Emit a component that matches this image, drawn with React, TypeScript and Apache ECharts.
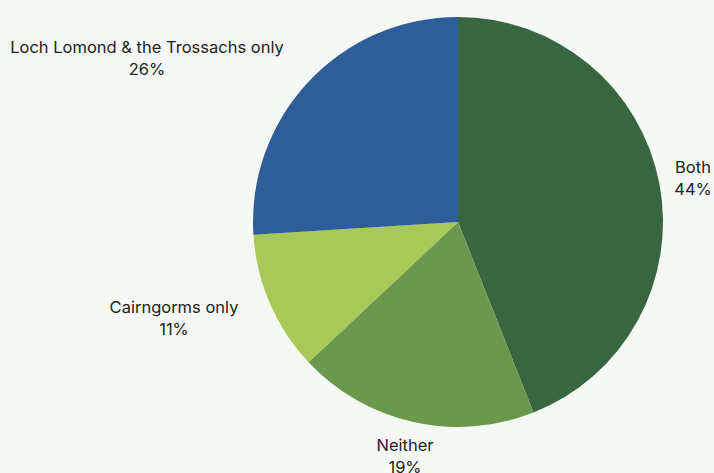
import React, { useEffect, useRef } from "react";
import * as echarts from "echarts";

const categories = ["Both", "Neither", "Cairngorms only", "Loch Lomond & the Trossachs only"];
const shares = [44, 19, 11, 26];
const colors = ["#386641", "#6a994e", "#a7c957", "#2e5e98"];
const labelCenters: [number, number][] = [
  [693, 178],
  [405, 456],
  [174, 318],
  [147, 58],
];

export default function App() {
  const ref = useRef<HTMLDivElement>(null);
  useEffect(() => {
    if (!ref.current) return;
    const chart = echarts.init(ref.current, undefined, { renderer: "svg" });
    chart.setOption({
      animation: false,
      backgroundColor: "#f6f8f6",
      series: [
        {
          type: "pie",
          center: [458, 222],
          radius: 205,
          startAngle: 90,
          clockwise: true,
          data: categories.map((name, i) => ({
            name,
            value: shares[i],
            itemStyle: { color: colors[i] },
          })),
          itemStyle: { borderWidth: 0 },
          label: {
            show: true,
            position: "outside",
            formatter: (p: any) => `${p.name}\n${p.value}%`,
            fontFamily: "Inter",
            fontSize: 16.5,
            lineHeight: 22,
            color: "#222222",
            align: "center",
            overflow: "none",
            width: 400,
          },
          labelLine: { show: false },
          labelLayout: (p: any) => {
            const c = labelCenters[p.dataIndex];
            return { x: c[0], y: c[1], align: "center", verticalAlign: "middle" };
          },
        },
      ],
    });
    return () => chart.dispose();
  }, []);
  return (
    <div
      ref={ref}
      style={{ position: "fixed", left: 0, top: 0, width: 714, height: 473 }}
    />
  );
}
